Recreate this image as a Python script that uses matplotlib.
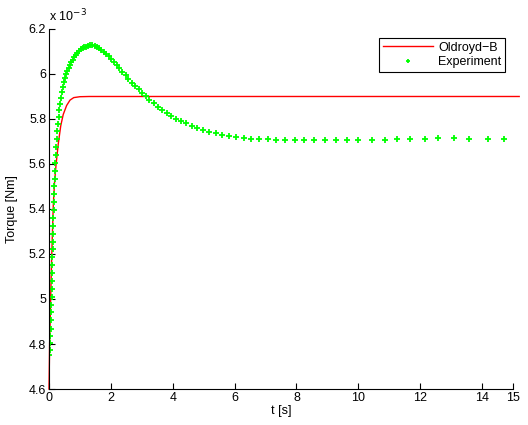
import matplotlib
matplotlib.use('Agg')
import matplotlib.pyplot as plt

plt.rcParams['font.family'] = ['Liberation Sans', 'DejaVu Sans']

# Oldroyd-B model (torque in 1e-3 Nm)
t_model = [0, 0.02, 0.05, 0.08, 0.11, 0.14, 0.18, 0.23, 0.30, 0.38, 0.46,
           0.57, 0.68, 0.80, 1.0, 1.3, 2.0, 15.2]
torque_model = [4.60, 4.80, 4.98, 5.15, 5.29, 5.42, 5.52, 5.60, 5.69, 5.77,
                5.82, 5.86, 5.884, 5.895, 5.899, 5.90, 5.90, 5.90]

# experimental data (torque in 1e-3 Nm)
t_exp = [0.01, 0.02, 0.03, 0.04, 0.05, 0.06, 0.068, 0.075, 0.082, 0.088,
         0.094, 0.10, 0.106, 0.112, 0.118, 0.124, 0.13, 0.136, 0.143, 0.15,
         0.158, 0.166, 0.175, 0.185, 0.196, 0.208, 0.221, 0.236, 0.252, 0.27,
         0.29, 0.312, 0.336, 0.362, 0.39, 0.42, 0.452, 0.486, 0.52, 0.556,
         0.594, 0.634, 0.676, 0.72, 0.766, 0.814, 0.864, 0.916, 0.97, 1.026,
         1.084, 1.144, 1.206, 1.27, 1.336, 1.404, 1.474, 1.546, 1.62, 1.696,
         1.774, 1.854, 1.93, 1.995, 2.10, 2.19, 2.26, 2.37, 2.48, 2.56,
         2.68, 2.78, 2.90, 3.01, 3.13, 3.24, 3.39, 3.51, 3.65, 3.81,
         3.95, 4.12, 4.27, 4.43, 4.62, 4.79, 4.99, 5.18, 5.39, 5.60,
         5.83, 6.06, 6.30, 6.54, 6.80, 7.07, 7.35, 7.64, 7.94, 8.25,
         8.58, 8.91, 9.27, 9.63, 10.0, 10.44, 10.86, 11.25, 11.66, 12.16,
         12.57, 13.1, 13.58, 14.19, 14.7]
torque_exp = [4.751, 4.775, 4.804, 4.835, 4.868, 4.905, 4.94, 4.975, 5.01, 5.045,
              5.08, 5.115, 5.15, 5.185, 5.22, 5.255, 5.29, 5.325, 5.36, 5.395,
              5.43, 5.465, 5.50, 5.535, 5.57, 5.605, 5.64, 5.675, 5.71, 5.745,
              5.778, 5.81, 5.84, 5.868, 5.895, 5.92, 5.944, 5.964, 5.982, 5.998,
              6.013, 6.027, 6.04, 6.052, 6.064, 6.075, 6.085, 6.094, 6.102, 6.109,
              6.115, 6.119, 6.122, 6.125, 6.127, 6.127, 6.125, 6.121, 6.115, 6.107,
              6.098, 6.088, 6.078, 6.068, 6.055, 6.040, 6.025, 6.010, 5.996, 5.978,
              5.961, 5.948, 5.932, 5.917, 5.902, 5.885, 5.870, 5.855, 5.840, 5.825,
              5.812, 5.800, 5.791, 5.781, 5.770, 5.761, 5.751, 5.742, 5.736, 5.730,
              5.725, 5.720, 5.716, 5.712, 5.711, 5.710, 5.708, 5.708, 5.707, 5.707,
              5.707, 5.706, 5.706, 5.706, 5.707, 5.707, 5.708, 5.709, 5.711, 5.713,
              5.714, 5.714, 5.713, 5.713, 5.712]

x_ticks = [0, 2, 4, 6, 8, 10, 12, 14, 15]
y_ticks = [4.6, 4.8, 5.0, 5.2, 5.4, 5.6, 5.8, 6.0, 6.2]

fig = plt.figure(figsize=(5.28, 4.25), dpi=100)
ax = fig.add_axes([0.0928, 0.0847, 0.8788, 0.8471])

ax.plot(t_model, torque_model, color=(1, 0, 0), lw=1.0, label='Oldroyd\u2212B',
        clip_on=False)
ax.plot(t_exp, torque_exp, ls='none', marker='+', ms=4, mew=1.3,
        color=(0, 1, 0), label='Experiment')

ax.set_xlim(0, 15)
ax.set_ylim(4.6, 6.2)
ax.set_xticks(x_ticks)
ax.set_yticks(y_ticks)
ax.set_xticklabels(['%g' % v for v in x_ticks])
ax.set_yticklabels(['%g' % v for v in y_ticks])
ax.spines['top'].set_visible(False)
ax.spines['right'].set_visible(False)
ax.tick_params(direction='in', length=4, width=0.8, labelsize=9, pad=2)

ax.set_xlabel('t [s]', fontsize=9, labelpad=1)
ax.set_ylabel('Torque [Nm]', fontsize=9, labelpad=8)
ax.text(0.0, 1.012, 'x 10$^{-3}$', transform=ax.transAxes, fontsize=9,
        ha='left', va='bottom')

leg = ax.legend(loc='upper right', bbox_to_anchor=(0.983, 0.975), fontsize=9,
                fancybox=False, edgecolor='black', framealpha=1,
                handlelength=4.0, borderpad=0.3, labelspacing=0.2,
                handletextpad=0.4, numpoints=1, borderaxespad=0)
leg.get_frame().set_linewidth(0.8)
leg.legend_handles[1].set_markersize(3)

fig.savefig('out.png', dpi=100)
